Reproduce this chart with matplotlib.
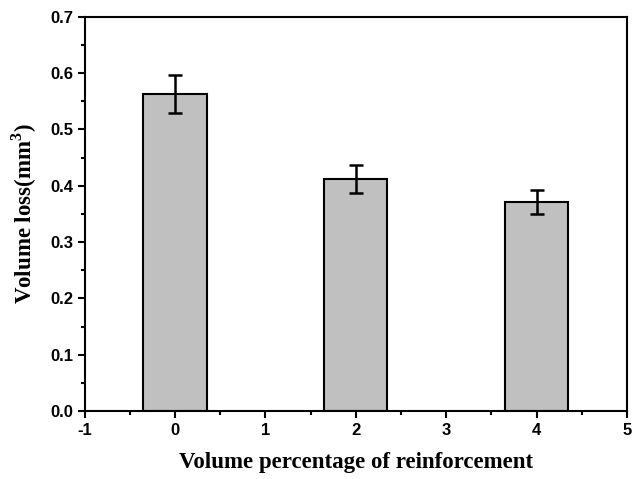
import matplotlib
matplotlib.use("Agg")
import matplotlib.pyplot as plt
from matplotlib.ticker import MultipleLocator

plt.rcParams['axes.unicode_minus'] = False
plt.rcParams['mathtext.fontset'] = 'custom'
plt.rcParams['mathtext.bf'] = 'Liberation Serif:bold'
plt.rcParams['mathtext.rm'] = 'Liberation Serif:bold'

# volume percentage of reinforcement vs volume loss
vol_pct = [0, 2, 4]
vol_loss = [0.563, 0.412, 0.371]
err = [0.034, 0.025, 0.022]

fig = plt.figure(figsize=(6.32, 4.79), dpi=100)
ax = fig.add_axes([0.134, 0.142, 0.858, 0.823])

ax.bar(vol_pct, vol_loss, width=0.7, color='#c0c0c0', edgecolor='black', linewidth=1.5,
       yerr=err, capsize=5, error_kw=dict(elinewidth=1.8, capthick=1.8, ecolor='black'))

ax.set_xlim(-1, 5)
ax.set_ylim(0, 0.7)
ax.xaxis.set_major_locator(MultipleLocator(1))
ax.xaxis.set_minor_locator(MultipleLocator(0.5))
ax.yaxis.set_major_locator(MultipleLocator(0.1))
ax.yaxis.set_minor_locator(MultipleLocator(0.05))
ax.yaxis.set_major_formatter(matplotlib.ticker.FormatStrFormatter('%.1f'))
ax.tick_params(which='major', direction='out', length=5, width=1.5)
ax.tick_params(which='minor', direction='out', length=3, width=1.5)
for s in ax.spines.values():
    s.set_linewidth(1.5)

for lab in ax.get_xticklabels() + ax.get_yticklabels():
    lab.set_fontfamily('Liberation Sans')
    lab.set_fontweight('bold')
    lab.set_fontsize(12)

ax.set_xlabel('Volume percentage of reinforcement', fontfamily='Liberation Serif',
              fontweight='bold', fontsize=16.5, labelpad=10)
ax.set_ylabel('Volume loss(mm$^\\mathbf{3}$)', fontfamily='Liberation Serif',
              fontweight='bold', fontsize=16.5, labelpad=8)

fig.savefig('out.png', dpi=100)
